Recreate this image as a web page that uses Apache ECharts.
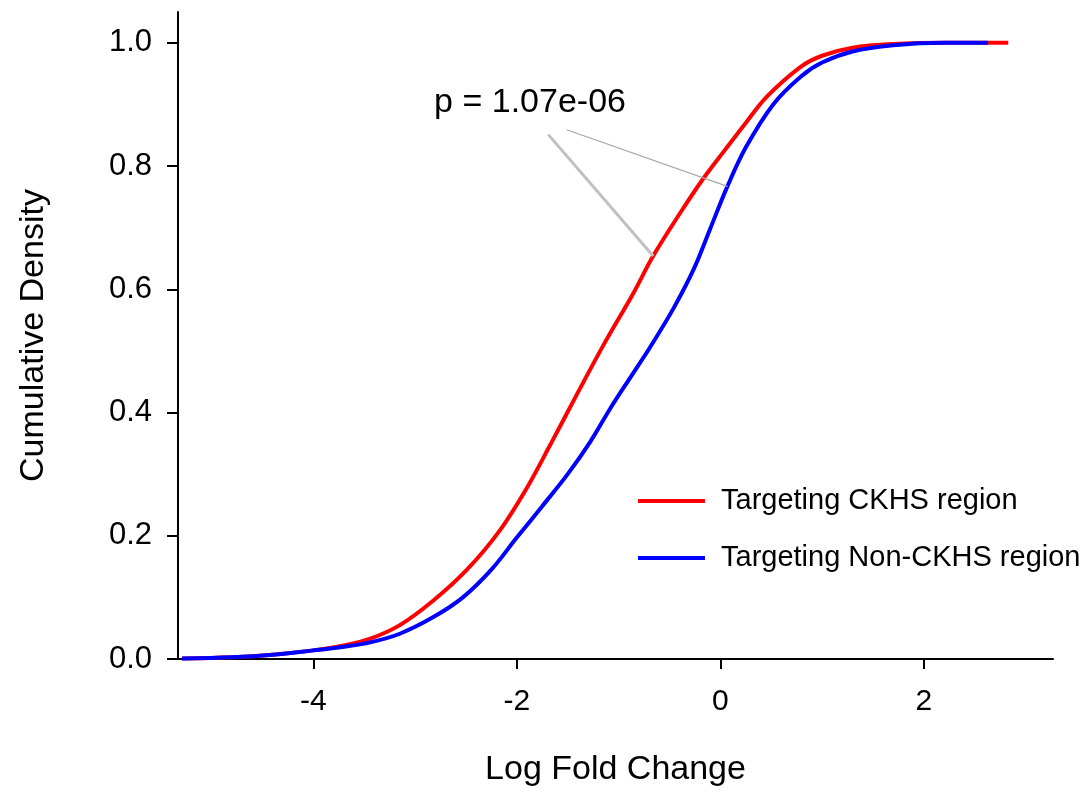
<!DOCTYPE html>
<html>
<head>
<meta charset="utf-8">
<script src="https://cdn.jsdelivr.net/npm/echarts@6/dist/echarts.min.js"></script>
<style>html,body{margin:0;padding:0;background:#fff}#c{width:1084px;height:792px}</style>
</head>
<body>
<div id="c"></div>
<script>
// Data
var seriesNames = ['Targeting CKHS region', 'Targeting Non-CKHS region'];
var redX = [-5.29,-4.8,-4.4,-4.0,-3.7,-3.44,-3.15,-2.82,-2.49,-2.17,-1.90,-1.67,-1.43,-1.15,-0.86,-0.66,-0.39,-0.17,0.05,0.25,0.46,0.79,1.0,1.3,1.7,2.2,2.83];
var redY = [0.001,0.003,0.007,0.014,0.022,0.033,0.055,0.095,0.145,0.208,0.278,0.348,0.423,0.509,0.592,0.654,0.725,0.779,0.827,0.870,0.913,0.961,0.979,0.992,0.998,1.0,1.0];
var blueX = [-5.29,-4.8,-4.4,-4.0,-3.7,-3.44,-3.15,-2.82,-2.53,-2.25,-2.0,-1.75,-1.5,-1.28,-1.08,-0.88,-0.69,-0.46,-0.26,-0.10,0.07,0.25,0.52,0.79,1.0,1.3,1.7,2.2,2.63];
var blueY = [0.001,0.003,0.007,0.014,0.020,0.027,0.041,0.068,0.100,0.145,0.197,0.248,0.300,0.352,0.407,0.458,0.506,0.569,0.633,0.698,0.767,0.830,0.900,0.945,0.968,0.986,0.996,1.0,1.0];
var xTicks = [-4, -2, 0, 2];
var yTicks = [0, 0.2, 0.4, 0.6, 0.8, 1.0];
var pText = 'p = 1.07e-06';
var pTextPos = [-1.87, 0.903];
var thickLine = [[-1.69, 0.851], [-0.66, 0.654]];
var thinLine = [[-1.51, 0.859], [0.07, 0.767]];

function zip(a, b) { return a.map(function (v, i) { return [v, b[i]]; }); }

var chart = echarts.init(document.getElementById('c'));
var font = 'Liberation Sans, Arial, Helvetica, sans-serif';
chart.setOption({
  animation: false,
  backgroundColor: '#fff',
  grid: { left: 178, right: 31, top: 12, bottom: 130 },
  legend: {
    orient: 'vertical', left: 633, top: 481, itemGap: 27,
    itemWidth: 67, itemHeight: 4, icon: 'rect',
    textStyle: { fontFamily: font, fontSize: 29, color: '#000', lineHeight: 30, padding: [0, 0, 0, 11] },
    data: seriesNames
  },
  xAxis: {
    type: 'value', min: -5.33, max: 3.27,
    name: 'Log Fold Change', nameLocation: 'middle', nameGap: 94,
    nameTextStyle: { fontFamily: font, fontSize: 34, color: '#000' },
    axisLine: { show: true, onZero: false, lineStyle: { color: '#000', width: 2 } },
    axisTick: { show: true, length: 10, customValues: xTicks, lineStyle: { color: '#000', width: 2 } },
    axisLabel: { customValues: xTicks, fontFamily: font, fontSize: 30, color: '#000', margin: 28 },
    splitLine: { show: false }
  },
  yAxis: {
    type: 'value', min: 0, max: 1.05,
    name: 'Cumulative Density', nameLocation: 'middle', nameGap: 127,
    nameTextStyle: { fontFamily: font, fontSize: 34, color: '#000' },
    axisLine: { show: true, onZero: false, lineStyle: { color: '#000', width: 2 } },
    axisTick: { show: true, length: 11, customValues: yTicks, lineStyle: { color: '#000', width: 2 } },
    axisLabel: { customValues: yTicks, fontFamily: font, fontSize: 31, color: '#000', margin: 26,
      formatter: function (v) { return v.toFixed(1); } },
    splitLine: { show: false }
  },
  series: [
    {
      name: seriesNames[0], type: 'line', data: zip(redX, redY), smooth: 0.35, showSymbol: false,
      lineStyle: { color: '#ff0000', width: 4 }, itemStyle: { color: '#ff0000' }, z: 2,
      markLine: {
        silent: true, symbol: ['none', 'none'], label: { show: false },
        data: [
          [{ coord: thickLine[0], lineStyle: { color: '#c0c0c0', width: 3, type: 'solid' } }, { coord: thickLine[1] }],
          [{ coord: thinLine[0], lineStyle: { color: '#a8a8a8', width: 1.2, type: 'solid' } }, { coord: thinLine[1] }]
        ]
      },
      markPoint: {
        silent: true, symbol: 'circle', symbolSize: 0,
        label: { show: true, position: 'inside', formatter: pText, fontFamily: font, fontSize: 34, color: '#000' },
        data: [{ coord: pTextPos }]
      }
    },
    {
      name: seriesNames[1], type: 'line', data: zip(blueX, blueY), smooth: 0.35, showSymbol: false,
      lineStyle: { color: '#0000ff', width: 4 }, itemStyle: { color: '#0000ff' }, z: 3
    }
  ]
});
</script>
</body>
</html>
